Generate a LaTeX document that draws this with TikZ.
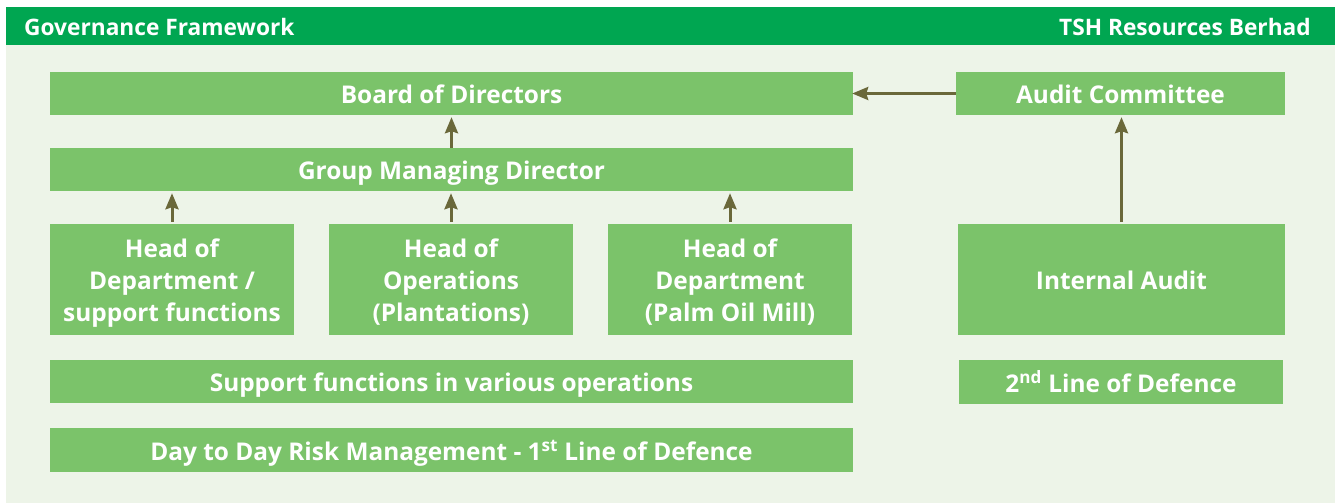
\documentclass[tikz,border=0pt]{standalone}
\usepackage{fontspec}
\setmainfont{Open Sans}
\usetikzlibrary{arrows.meta}
\definecolor{headgreen}{RGB}{0,166,81}
\definecolor{panel}{RGB}{237,244,232}
\definecolor{boxgreen}{RGB}{123,195,106}
\definecolor{arrowc}{RGB}{106,104,58}
% one line of box text, sized to its cap height so the capitals sit centred
\newcommand\capline[1]{\raisebox{-1.5pt}[0.714em][0pt]{#1}}
\newcommand\titleline[1]{\raisebox{0pt}[0.714em][0pt]{#1}}
\tikzset{
  box/.style={fill=boxgreen, draw=none, text=white, align=center, inner sep=0pt,
    font=\fontsize{24.4}{32}\selectfont\bfseries},
  link/.style={draw=arrowc, line width=3pt,
    -{Stealth[length=16pt, width=13pt, inset=2pt]}},
  headtext/.style={text=white, inner sep=0pt, font=\fontsize{22.7}{26}\selectfont\bfseries}
}
\begin{document}
\begin{tikzpicture}[x=1pt, y=-1pt]
  % page and backgrounds
  \fill[white] (0,0) rectangle (1335,503);
  \useasboundingbox (0,0) rectangle (1335,503);
  \fill[panel] (6,45) rectangle (1335,503);
  \fill[headgreen] (6,7) rectangle (1335,45);
  \node[headtext, anchor=west] (title) at (24,27) {\titleline{Governance Framework}};
  \node[headtext, anchor=east] (company) at (1311,27) {\titleline{TSH Resources Berhad}};

  % first line of defence column
  \node[box, minimum width=803pt, minimum height=43pt] (board) at (451.5,93.5) {\capline{Board of Directors}};
  \node[box, minimum width=803pt, minimum height=43pt] (gmd) at (451.5,169.5) {\capline{Group Managing Director}};
  \node[box, minimum width=244pt, minimum height=111pt] (hod) at (172,279.5)
    {\capline{Head of}\\\capline{Department /}\\\capline{support functions}};
  \node[box, minimum width=244pt, minimum height=111pt] (hoo) at (451,279.5)
    {\capline{Head of}\\\capline{Operations}\\\capline{(Plantations)}};
  \node[box, minimum width=244pt, minimum height=111pt] (hom) at (730,279.5)
    {\capline{Head of}\\\capline{Department}\\\capline{(Palm Oil Mill)}};
  \node[box, minimum width=803pt, minimum height=43pt] (support) at (451.5,381.5) {\capline{Support functions in various operations}};
  \node[box, minimum width=803pt, minimum height=44pt] (daily) at (451.5,450) {\capline{Day to Day Risk Management - 1\textsuperscript{st} Line of Defence}};

  % second line of defence column
  \node[box, minimum width=329pt, minimum height=43pt] (audit) at (1120.5,93.5) {\capline{Audit Committee}};
  \node[box, minimum width=327pt, minimum height=111pt] (internal) at (1121.5,279.5) {\capline{Internal Audit}};
  \node[box, minimum width=324pt, minimum height=44pt] (second) at (1121,382) {\capline{2\textsuperscript{nd} Line of Defence}};

  % reporting lines
  \draw[link, shorten >=-1pt] (audit.west) -- (board.east);
  \draw[link, shorten >=2pt] (gmd.north) -- (board.south);
  \draw[link, shorten <=2pt, shorten >=2pt] (hod.north) -- (hod.north |- gmd.south);
  \draw[link, shorten <=2pt, shorten >=2pt] (hoo.north) -- (hoo.north |- gmd.south);
  \draw[link, shorten <=2pt, shorten >=2pt] (hom.north) -- (hom.north |- gmd.south);
  \draw[link, shorten <=2pt, shorten >=2pt] (internal.north) -- (internal.north |- audit.south);
\end{tikzpicture}
\end{document}
